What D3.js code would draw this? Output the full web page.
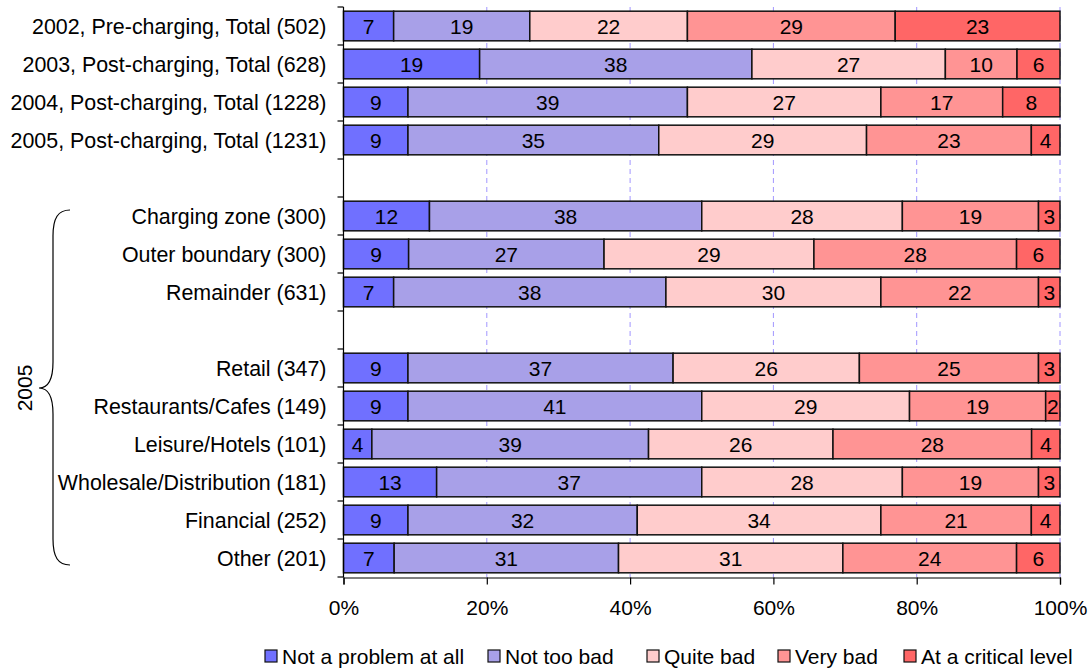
<!DOCTYPE html>
<html>
<head>
<meta charset="utf-8">
<script src="https://cdn.jsdelivr.net/npm/d3@7"></script>
<style>
  body { margin: 0; background: #fff; }
  svg text { font-family: "Liberation Sans", Arial, sans-serif; fill: #000; }
</style>
</head>
<body>
<div id="chart"></div>
<script>
// categories top to bottom, null = empty spacer row
const categories = [
  "2002, Pre-charging, Total (502)",
  "2003, Post-charging, Total (628)",
  "2004, Post-charging, Total (1228)",
  "2005, Post-charging, Total (1231)",
  null,
  "Charging zone (300)",
  "Outer boundary (300)",
  "Remainder (631)",
  null,
  "Retail (347)",
  "Restaurants/Cafes (149)",
  "Leisure/Hotels (101)",
  "Wholesale/Distribution (181)",
  "Financial (252)",
  "Other (201)"
];

const seriesNames = ["Not a problem at all", "Not too bad", "Quite bad", "Very bad", "At a critical level"];
const seriesColors = ["#7070FF", "#A8A0E8", "#FFCCCC", "#FF9494", "#FF6666"];

const notAProblem = [7, 19, 9, 9, null, 12, 9, 7, null, 9, 9, 4, 13, 9, 7];
const notTooBad   = [19, 38, 39, 35, null, 38, 27, 38, null, 37, 41, 39, 37, 32, 31];
const quiteBad    = [22, 27, 27, 29, null, 28, 29, 30, null, 26, 29, 26, 28, 34, 31];
const veryBad     = [29, 10, 17, 23, null, 19, 28, 22, null, 25, 19, 28, 19, 21, 24];
const critical    = [23, 6, 8, 4, null, 3, 6, 3, null, 3, 2, 4, 3, 4, 6];

const xTicks = [0, 0.2, 0.4, 0.6, 0.8, 1];

const width = 1092, height = 670;
const plotLeft = 343.5, plotRight = 1060, plotTop = 7, plotBottom = 577;

const svg = d3.select("#chart").append("svg")
  .attr("width", width)
  .attr("height", height);

const keys = categories.map((c, i) => "row" + i);
const seriesData = [notAProblem, notTooBad, quiteBad, veryBad, critical];

const rows = keys.map((k, i) => {
  const r = { key: k, label: categories[i] };
  seriesNames.forEach((s, j) => { r[s] = seriesData[j][i] || 0; });
  return r;
});

const y = d3.scaleBand()
  .domain(keys)
  .range([plotTop, plotBottom])
  .paddingInner(0.22)
  .paddingOuter(0.11);

const x = d3.scaleLinear().domain([0, 1]).range([plotLeft, plotRight]);

// 100% stacked like Excel
const stack = d3.stack().keys(seriesNames).offset(d3.stackOffsetExpand);
const layers = stack(rows.filter(r => r.label !== null));

// gridlines
svg.append("g")
  .selectAll("line")
  .data(xTicks.slice(1))
  .enter()
  .append("line")
  .attr("x1", d => x(d))
  .attr("x2", d => x(d))
  .attr("y1", plotTop)
  .attr("y2", plotBottom)
  .style("stroke", "#A196FF")
  .style("stroke-width", 1)
  .style("stroke-dasharray", "5,4");

// bars
const layerG = svg.append("g")
  .selectAll("g")
  .data(layers)
  .enter()
  .append("g")
  .attr("fill", (d, i) => seriesColors[i]);

layerG.selectAll("rect")
  .data(d => d)
  .enter()
  .append("rect")
  .attr("x", d => x(d[0]))
  .attr("y", d => y(d.data.key))
  .attr("width", d => x(d[1]) - x(d[0]))
  .attr("height", y.bandwidth())
  .style("stroke", "#111")
  .style("stroke-width", 1.5);

// value labels
layers.forEach((layer) => {
  svg.append("g")
    .selectAll("text")
    .data(layer)
    .enter()
    .append("text")
    .attr("x", d => (x(d[0]) + x(d[1])) / 2)
    .attr("y", d => y(d.data.key) + y.bandwidth() / 2)
    .attr("dy", "0.36em")
    .attr("text-anchor", "middle")
    .style("font-size", "21px")
    .text(d => d.data[layer.key]);
});

// left axis (labels only, ticks drawn at band boundaries)
const yAxis = d3.axisLeft(y)
  .tickSize(0)
  .tickPadding(17)
  .tickFormat((d, i) => categories[i] || "");

const yG = svg.append("g")
  .attr("transform", `translate(${plotLeft},0)`)
  .call(yAxis);
yG.select(".domain").remove();
yG.selectAll("text")
  .style("font-size", "21.4px")
  .attr("dy", "0.36em");

const step = y.step();
const boundaries = keys.map(k => y(k) - step * y.paddingInner() / 2).concat([plotBottom]);
svg.append("g")
  .selectAll("line")
  .data(boundaries)
  .enter()
  .append("line")
  .attr("x1", plotLeft - 6)
  .attr("x2", plotLeft)
  .attr("y1", d => d)
  .attr("y2", d => d)
  .style("stroke", "#000")
  .style("stroke-width", 1.2);

svg.append("line")
  .attr("x1", plotLeft).attr("x2", plotLeft)
  .attr("y1", plotTop).attr("y2", plotBottom + 0.5)
  .style("stroke", "#000")
  .style("stroke-width", 1.2);

// bottom axis
const xAxis = d3.axisBottom(x)
  .tickValues(xTicks)
  .tickSize(7)
  .tickPadding(16)
  .tickFormat(d3.format(".0%"));

const xG = svg.append("g")
  .attr("transform", `translate(0,${plotBottom + 0.5})`)
  .call(xAxis);
xG.selectAll("text").style("font-size", "21px");
xG.selectAll("line, path").style("stroke", "#000").style("stroke-width", 1.2);

// brace for the 2005 group
const bTop = 210, bBot = 565, bMid = 388, bx = 53;
const brace = d3.path();
brace.moveTo(70, bTop);
brace.bezierCurveTo(58, bTop, bx, bTop + 8, bx, bTop + 26);
brace.lineTo(bx, bMid - 26);
brace.bezierCurveTo(bx, bMid - 8, 48, bMid, 39, bMid);
brace.bezierCurveTo(48, bMid, bx, bMid + 8, bx, bMid + 26);
brace.lineTo(bx, bBot - 26);
brace.bezierCurveTo(bx, bBot - 8, 58, bBot, 70, bBot);

svg.append("path")
  .attr("d", brace.toString())
  .attr("fill", "none")
  .style("stroke", "#000")
  .style("stroke-width", 1.2);

svg.append("text")
  .attr("transform", `translate(32,${bMid}) rotate(-90)`)
  .attr("text-anchor", "middle")
  .style("font-size", "21px")
  .text("2005");

// legend
const legendX = [265, 488, 647, 778, 904];
const legend = svg.append("g")
  .selectAll("g")
  .data(seriesNames)
  .enter()
  .append("g")
  .attr("transform", (d, i) => `translate(${legendX[i]},650)`);

legend.append("rect")
  .attr("width", 12)
  .attr("height", 12)
  .attr("fill", (d, i) => seriesColors[i])
  .style("stroke", "#111")
  .style("stroke-width", 1.2);

legend.append("text")
  .attr("x", 17)
  .attr("y", 14)
  .style("font-size", "21px")
  .text(d => d);
</script>
</body>
</html>
